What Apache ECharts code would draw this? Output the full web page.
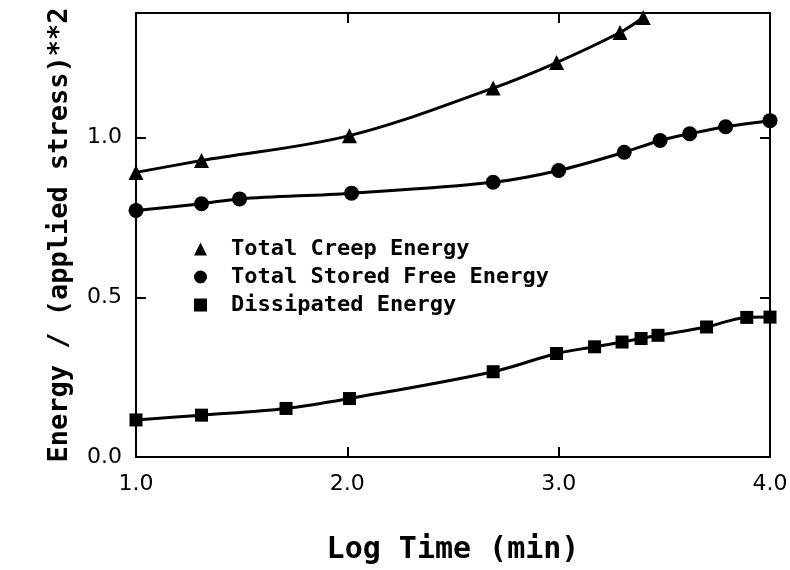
<!DOCTYPE html>
<html>
<head>
<meta charset="utf-8">
<script src="https://cdn.jsdelivr.net/npm/echarts@6/dist/echarts.min.js"></script>
<style>
  html, body { margin: 0; padding: 0; background: #fff; }
  #chart { width: 790px; height: 570px; }
</style>
</head>
<body>
<div id="chart"></div>
<script>
// log time (min) for each series
const creepX = [1.0, 1.31, 2.01, 2.69, 2.99, 3.29, 3.40];
const creepY = [0.891, 0.928, 1.006, 1.155, 1.235, 1.329, 1.376];

const storedX = [1.0, 1.31, 1.49, 2.02, 2.69, 3.0, 3.31, 3.48, 3.62, 3.79, 4.0];
const storedY = [0.772, 0.793, 0.808, 0.826, 0.860, 0.897, 0.954, 0.991, 1.012, 1.034, 1.053];

const dissX = [1.0, 1.31, 1.71, 2.01, 2.69, 2.99, 3.17, 3.30, 3.39, 3.47, 3.70, 3.89, 4.0];
const dissY = [0.116, 0.131, 0.152, 0.183, 0.267, 0.324, 0.345, 0.360, 0.371, 0.381, 0.407, 0.437, 0.438];

const seriesNames = ['Total Creep Energy', 'Total Stored Free Energy', 'Dissipated Energy'];
const xTicks = [1.0, 2.0, 3.0, 4.0];
const yTicks = [0.0, 0.5, 1.0];

function pairs(xs, ys) {
    return xs.map(function (x, i) { return [x, ys[i]]; });
}

let myChart = echarts.init(document.getElementById('chart'));

const lineBase = {
    type: 'line',
    smooth: 0.35,
    symbolSize: 15,
    color: '#000',
    lineStyle: { color: '#000', width: 3 },
    itemStyle: { color: '#000' },
    clip: false,
    animation: false
};

const axisLine = { show: true, onZero: false, lineStyle: { color: '#000', width: 2 } };
const axisTick = { show: true, inside: true, length: 10, lineStyle: { color: '#000', width: 2 } };

let option = {
    backgroundColor: '#fff',
    animation: false,
    grid: { left: 136, right: 20, top: 13, bottom: 113, outerBoundsMode: 'none', containLabel: false },
    legend: {
        orient: 'vertical',
        left: 189,
        top: 233,
        itemGap: 6,
        itemWidth: 13,
        itemHeight: 13,
        textStyle: {
            fontFamily: 'DejaVu Sans Mono',
            fontSize: 22,
            fontWeight: 'bold',
            color: '#000',
            padding: [0, 0, 0, 19]
        },
        data: [
            { name: seriesNames[0], icon: 'triangle' },
            { name: seriesNames[1], icon: 'circle' },
            { name: seriesNames[2], icon: 'rect' }
        ]
    },
    xAxis: [{
        type: 'value',
        min: 1,
        max: 4,
        interval: 1,
        name: 'Log Time (min)',
        nameLocation: 'middle',
        nameGap: 78,
        nameTextStyle: { fontFamily: 'DejaVu Sans Mono', fontSize: 30, fontWeight: 'bold', color: '#000' },
        axisLine: axisLine,
        axisTick: axisTick,
        splitLine: { show: false },
        axisLabel: {
            margin: 16,
            fontFamily: 'DejaVu Sans',
            fontSize: 22,
            color: '#000',
            formatter: function (v) { return xTicks.indexOf(v) >= 0 ? v.toFixed(1) : ''; }
        }
    }, {
        type: 'value',
        position: 'top',
        min: 1,
        max: 4,
        interval: 1,
        axisLine: axisLine,
        axisTick: axisTick,
        axisLabel: { show: false },
        splitLine: { show: false }
    }],
    yAxis: [{
        type: 'value',
        min: 0,
        max: 1.39,
        interval: 0.5,
        name: 'Energy / (applied stress)**2',
        nameLocation: 'middle',
        nameGap: 63,
        nameTextStyle: { fontFamily: 'DejaVu Sans Mono', fontSize: 27, fontWeight: 'bold', color: '#000' },
        axisLine: axisLine,
        axisTick: axisTick,
        splitLine: { show: false },
        axisLabel: {
            margin: 14,
            showMaxLabel: false,
            fontFamily: 'DejaVu Sans',
            fontSize: 22,
            color: '#000',
            formatter: function (v) { return yTicks.indexOf(v) >= 0 ? v.toFixed(1) : ''; }
        }
    }, {
        type: 'value',
        position: 'right',
        min: 0,
        max: 1.39,
        interval: 0.5,
        axisLine: axisLine,
        axisTick: Object.assign({}, axisTick, { customValues: [0.5, 1.0] }),
        axisLabel: { show: false },
        splitLine: { show: false }
    }],
    series: [
        Object.assign({}, lineBase, { name: seriesNames[0], symbol: 'triangle', data: pairs(creepX, creepY) }),
        Object.assign({}, lineBase, { name: seriesNames[1], symbol: 'circle', data: pairs(storedX, storedY) }),
        Object.assign({}, lineBase, { name: seriesNames[2], symbol: 'rect', symbolSize: 13, data: pairs(dissX, dissY) })
    ]
};

myChart.setOption(option);
</script>
</body>
</html>
